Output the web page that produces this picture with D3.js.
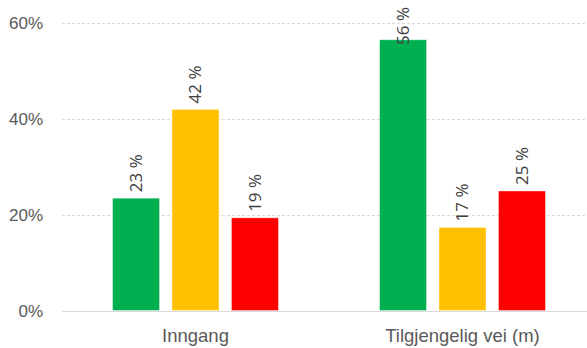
<!DOCTYPE html>
<html>
<head>
<meta charset="utf-8">
<script src="https://cdn.jsdelivr.net/npm/d3@7"></script>
<style>
  html, body { margin: 0; padding: 0; background: #fff; overflow: hidden; }
  svg { display: block; font-family: "Open Sans", "Liberation Sans", sans-serif; }
</style>
</head>
<body>
<svg id="chart" width="587" height="348"></svg>
<script>
// Categories and the three series (share of responses, %)
const categories = ["Inngang", "Tilgjengelig vei (m)"];
const seriesNames = ["Grønn", "Gul", "Rød"];
const seriesColors = ["#00B050", "#FFC000", "#FF0000"];
const greenValues = [23.4, 56.4];
const yellowValues = [41.9, 17.3];
const redValues = [19.3, 24.9];
const yTicks = [0, 20, 40, 60];

const seriesValues = [greenValues, yellowValues, redValues];

const svg = d3.select("#chart");
const margin = { left: 62, right: -9, top: 22.5, bottom: 37.5 };
const W = 587, H = 348;

const x0 = d3.scaleBand()
  .domain(categories)
  .range([margin.left, W - margin.right])
  .paddingInner(0)
  .paddingOuter(0);

const x1 = d3.scaleBand()
  .domain(seriesNames)
  .range([0, x0.bandwidth()])
  .paddingInner(0.21)
  .paddingOuter(0.85);

const y = d3.scaleLinear()
  .domain([0, 60])
  .range([H - margin.bottom, margin.top]);

// Gridlines
const grid = svg.append("g");
grid.selectAll("line")
  .data(yTicks)
  .join("line")
  .attr("x1", margin.left)
  .attr("x2", W - margin.right)
  .attr("y1", d => Math.round(y(d)) + 0.5)
  .attr("y2", d => Math.round(y(d)) + 0.5)
  .attr("stroke", "#d9d9d9")
  .attr("stroke-width", 1)
  .attr("stroke-dasharray", d => d === 0 ? null : "3,2");

// Y axis labels
const yAxis = svg.append("g")
  .attr("transform", `translate(${margin.left - 19},0)`)
  .call(d3.axisLeft(y).tickValues(yTicks).tickSize(0).tickFormat(d => d + "%"));
yAxis.select(".domain").remove();
yAxis.selectAll("text")
  .attr("fill", "#595959")
  .attr("font-size", 17)
  .attr("dy", "0.35em")
  .attr("x", 0);

// Bars
const groups = svg.append("g").selectAll("g")
  .data(categories)
  .join("g")
  .attr("transform", d => `translate(${x0(d)},0)`);

const cells = (c, i) => seriesNames.map((s, k) => ({ s, k, v: seriesValues[k][i] }));

groups.selectAll("rect")
  .data(cells)
  .join("rect")
  .attr("x", d => x1(d.s))
  .attr("width", x1.bandwidth())
  .attr("y", d => y(d.v))
  .attr("height", d => y(0) - y(d.v))
  .attr("fill", d => seriesColors[d.k])
  .attr("stroke", "#fff")
  .attr("stroke-opacity", 0.5)
  .attr("stroke-width", 0.75);

// Value labels, rotated; kept inside the top of the plot area
const labelTop = 7;
groups.selectAll("text")
  .data(cells)
  .join("text")
  .attr("dy", "0.35em")
  .attr("text-anchor", "start")
  .attr("fill", "#404040")
  .attr("font-size", 17)
  .text(d => Math.round(d.v) + " %")
  .each(function (d) {
    const len = this.getComputedTextLength();
    let start = y(d.v) - 6;
    if (start - len < labelTop) start = labelTop + len;
    d3.select(this).attr("transform",
      `translate(${x1(d.s) + x1.bandwidth() / 2},${start}) rotate(-90)`);
  });

// Category labels
const xAxis = svg.append("g")
  .attr("transform", `translate(0,${y(0)})`)
  .call(d3.axisBottom(x0).tickSize(0));
xAxis.select(".domain").remove();
xAxis.selectAll("text")
  .attr("fill", "#595959")
  .attr("font-size", 18.5)
  .attr("dy", 0)
  .attr("y", 31.5);
</script>
</body>
</html>
